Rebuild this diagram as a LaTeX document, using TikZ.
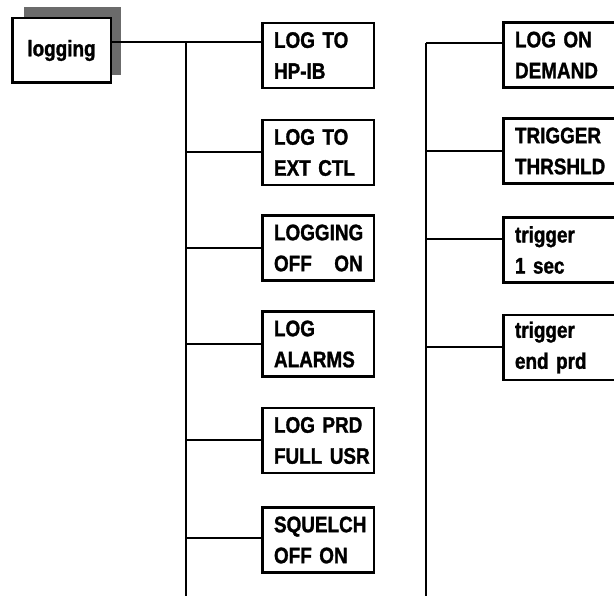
\documentclass[tikz,border=0pt]{standalone}
\usepackage{fontspec}
\newfontfamily\condfont[FakeStretch=0.84,FakeBold=1.3]{Liberation Sans}
\newcommand\twoln[2]{\makebox[0pt][l]{#1}\\\makebox[0pt][l]{#2}}
\begin{document}
\begin{tikzpicture}[x=1pt,y=-1pt,
  conn/.style={line width=2pt},
  menubox/.style={draw, line width=2.5pt, fill=white, outer sep=0pt,
    minimum width=111.5pt, minimum height=65pt, text width=88pt,
    inner xsep=11.75pt, inner ysep=0pt, align=left,
    font=\condfont\bfseries\fontsize{22.5}{31}\selectfont},
  rootbox/.style={draw, line width=2.5pt, fill=white, outer sep=0pt,
    minimum width=98.5pt, minimum height=64.5pt, inner sep=0pt,
    font=\condfont\bfseries\fontsize{22.5}{31}\selectfont},
  shadowbox/.style={fill=black!58, draw=none, outer sep=0pt, inner sep=0pt,
    minimum width=97pt, minimum height=68pt}]
\useasboundingbox (0,0) rectangle (614,596);
\clip (0,0) rectangle (614,596);
\fill[white] (0,0) rectangle (614,596);

\coordinate (t1top) at (186,42);
\coordinate (t1bot) at (186,597);
\coordinate (t2top) at (426,43);
\coordinate (t2bot) at (426,597);

% root with shadow
\node[shadowbox] (shadow) at (72.5,41) {};
\node[rootbox] (root) at (61.5,50.5) {logging};

% column 1 boxes
\node[menubox] (b1) at (318,55.5) {\twoln{LOG TO}{HP-IB}};
\node[menubox] (b2) at (318,152.5) {\twoln{LOG TO}{EXT CTL}};
\node[menubox] (b3) at (318,248) {\twoln{LOGGING}{OFF\ \ \ ON}};
\node[menubox] (b4) at (318,344) {\twoln{LOG}{ALARMS}};
\node[menubox] (b5) at (318,440.5) {\twoln{LOG PRD}{FULL USR}};
\node[menubox] (b6) at (318,540) {\twoln{SQUELCH}{OFF ON}};

% column 2 boxes
\node[menubox] (c1) at (559,55) {\twoln{LOG ON}{DEMAND}};
\node[menubox] (c2) at (559,151) {\twoln{TRIGGER}{THRSHLD}};
\node[menubox] (c3) at (559,250) {\twoln{trigger}{1 sec}};
\node[menubox] (c4) at (559,347.5) {\twoln{trigger}{end prd}};

\coordinate (b1in) at (261,42);
\coordinate (b3in) at (186,248);
\coordinate (b6in) at (186,538);
\coordinate (c3in) at (426,239);

\draw[conn] (root.east |- b1in) -- (b1.west |- b1in);
\draw[conn] (t1top) -- (t1bot);
\draw[conn] (t1top |- b2.west) -- (b2.west);
\draw[conn] (b3in) -- (b3.west |- b3in);
\draw[conn] (t1top |- b4.west) -- (b4.west);
\draw[conn] (t1top |- b5.west) -- (b5.west);
\draw[conn] (b6in) -- (b6.west |- b6in);

\draw[conn] (t2top) -- (t2bot);
\draw[conn] (t2top) -- (c1.west |- t2top);
\draw[conn] (t2top |- c2.west) -- (c2.west);
\draw[conn] (c3in) -- (c3.west |- c3in);
\draw[conn] (t2top |- c4.west) -- (c4.west);
\end{tikzpicture}
\end{document}
